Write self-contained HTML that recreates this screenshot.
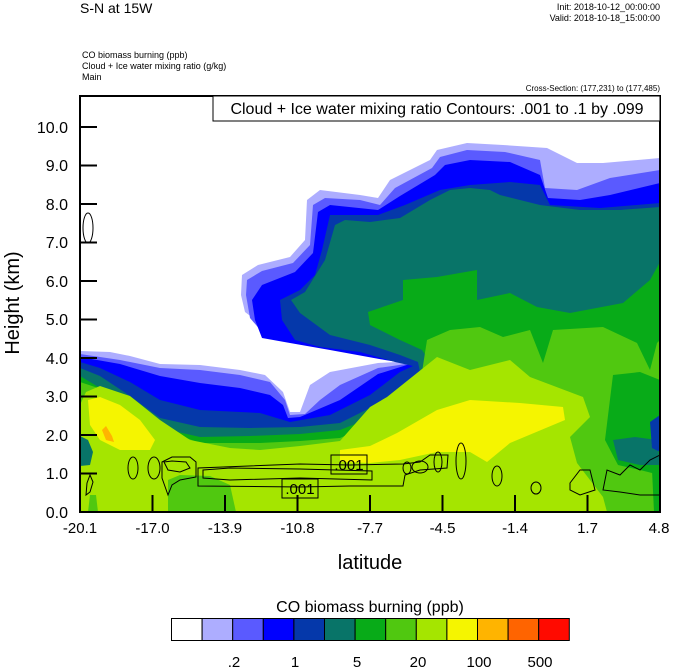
<!DOCTYPE html>
<html><head><meta charset="utf-8"><style>
html,body{margin:0;padding:0;background:#fff;}
body{width:674px;height:668px;overflow:hidden;}
svg{display:block;font-family:"Liberation Sans",sans-serif;}
</style></head><body>
<svg width="674" height="668" viewBox="0 0 674 668" xmlns="http://www.w3.org/2000/svg">
<defs><clipPath id="c"><rect x="80" y="96" width="580" height="416"/></clipPath></defs>
<rect width="674" height="668" fill="#fff"/>
<g clip-path="url(#c)">
<path fill="#adadff" d="M80,512 L80,351 L110,352 L130,356 L160,364 L200,365 L240,370 L265,375 L283,392 L290,412 L300,412 L310,385 L330,372 L378,363 L415,361 L380,351 L330,341 L290,333 L265,327 L245,312 L241,295 L242,275 L258,265 L290,257 L305,240 L307,200 L320,190 L360,195 L378,198 L390,180 L430,160 L437,150 L467,143 L503,145 L547,148 L577,163 L603,163 L660,158 L660,512 Z"/>
<path fill="#5a5aff" d="M80,512 L80,354 L120,360 L160,368 L200,370 L240,375 L270,382 L285,400 L290,415 L305,414 L320,400 L340,385 L378,368 L413,363 L380,356 L330,346 L290,338 L262,332 L250,318 L246,295 L247,280 L262,271 L293,263 L310,245 L313,205 L325,198 L360,200 L380,205 L395,188 L432,168 L440,157 L467,150 L505,152 L540,160 L545,188 L577,190 L610,178 L660,170 L660,512 Z"/>
<path fill="#0000ff" d="M80,512 L80,357 L120,364 L160,376 L200,383 L240,388 L270,395 L283,405 L288,418 L300,417 L340,400 L378,374 L410,364 L385,360 L330,350 L290,343 L262,338 L255,320 L252,300 L262,285 L295,272 L313,253 L318,212 L330,205 L378,210 L400,196 L435,175 L445,165 L470,160 L510,162 L540,175 L548,198 L580,200 L610,195 L660,183 L660,512 Z"/>
<path fill="#0538aa" d="M80,512 L80,362 L100,368 L130,382 L160,400 L200,410 L260,413 L290,422 L330,415 L370,395 L400,372 L413,366 L395,362 L360,352 L320,347 L295,340 L282,320 L280,300 L300,290 L315,275 L322,250 L330,215 L378,215 L405,205 L440,190 L470,185 L510,182 L540,185 L550,205 L600,208 L660,203 L660,512 Z"/>
<path fill="#087468" d="M80,512 L80,368 L100,376 L130,396 L160,418 L200,427 L250,428 L300,427 L340,423 L370,408 L400,390 L420,372 L418,362 L400,355 L370,345 L330,335 L300,313 L291,300 L305,292 L325,260 L335,225 L345,220 L370,222 L400,218 L430,200 L450,190 L470,188 L490,190 L500,195 L540,205 L580,210 L620,210 L660,207 L660,512 Z"/>
<path fill="#08ab18" d="M80,512 L80,376 L100,388 L130,408 L160,428 L200,437 L250,436 L300,434 L340,430 L370,418 L400,403 L425,380 L432,365 L422,350 L400,340 L370,325 L368,312 L403,300 L403,280 L437,277 L477,270 L477,300 L510,293 L537,307 L570,313 L623,303 L650,280 L660,262 L660,512 Z"/>
<path fill="#50c810" d="M80,512 L80,382 L110,392 L140,412 L170,432 L200,443 L260,443 L300,441 L340,438 L370,425 L400,410 L420,385 L427,340 L450,330 L480,327 L503,337 L530,330 L543,363 L553,330 L603,327 L637,343 L650,370 L657,343 L660,340 L660,512 Z"/>
<path fill="#08ab18" d="M613,375 L640,372 L660,380 L660,475 L640,470 L618,465 L605,440 Z"/>
<path fill="#08ab18" d="M652,470 L660,465 L660,512 L654,512 Z"/>
<path fill="#087468" d="M613,440 L635,437 L657,440 L660,465 L640,465 L618,460 Z"/>
<path fill="#0538aa" d="M650,422 L660,415 L660,452 L652,448 Z"/>
<path fill="#a5e500" d="M80,512 L80,405 L86,392 L100,386 L130,396 L160,420 L190,440 L230,448 L260,450 L300,446 L340,441 L370,407 L387,397 L437,357 L470,370 L510,360 L530,377 L583,397 L590,417 L570,437 L577,463 L603,497 L607,512 Z"/>
<path fill="#50c810" d="M168,480 L180,475 L210,476 L230,485 L236,512 L168,512 Z"/>
<path fill="#50c810" d="M88,512 L90,495 L96,495 L98,512 Z"/>
<path fill="#087468" d="M80,436 L88,440 L93,452 L90,465 L80,466 Z"/>
<path fill="#f5f500" d="M88,400 L100,397 L120,405 L140,420 L155,440 L150,450 L120,450 L100,440 L90,425 Z"/>
<path fill="#ffb400" d="M102,430 L106,426 L112,436 L114,442 L106,440 Z"/>
<path fill="#f5f500" d="M340,450 L370,446 L397,433 L437,410 L470,400 L520,403 L563,407 L565,420 L510,443 L487,462 L470,452 L437,452 L400,460 L370,463 L340,462 Z"/>
<g fill="none" stroke="#000" stroke-width="1">
<ellipse cx="88" cy="228" rx="5" ry="15"/>
<path d="M87,483 L90,475 L93,482 L90,492 L86,495 Z"/>
<ellipse cx="133" cy="468" rx="5" ry="11"/>
<ellipse cx="154" cy="468" rx="6" ry="11"/>
<path d="M162,462 L172,457 L190,457 L196,462 L196,477 L180,480 L172,485 L168,495 L162,478 Z"/>
<path d="M164,462 L172,461 L186,462 L190,468 L180,472 L168,470 Z"/>
<path d="M198,468 L198,486 L300,487 L350,486 L403,486 L405,475 L420,470 L447,468 L448,455 L430,455 L420,462 L403,464 L350,465 L300,464 Z"/>
<path d="M203,470 L230,468 L300,469 L372,471 L372,480 L300,478 L230,480 L203,478 Z"/>
<ellipse cx="407" cy="468" rx="4" ry="6"/>
<ellipse cx="420" cy="467" rx="8" ry="6"/>
<ellipse cx="438" cy="462" rx="4" ry="10"/>
<ellipse cx="461" cy="461" rx="5" ry="18"/>
<ellipse cx="497" cy="476" rx="5" ry="10"/>
<ellipse cx="536" cy="488" rx="5" ry="6"/>
<path d="M570,483 L580,470 L590,470 L595,490 L580,495 L570,490 Z"/>
<path d="M603,490 L607,470 L620,475 L630,465 L640,470 L650,460 L660,455 L660,495 L640,495 L620,492 Z"/>
</g>
<g font-size="15" text-anchor="middle">
<rect x="331" y="455" width="36" height="19" fill="none" stroke="#000"/>
<text x="349" y="470">.001</text>
<rect x="282" y="479" width="36" height="19" fill="none" stroke="#000"/>
<text x="300" y="494">.001</text>
</g>
</g>
<rect x="80" y="96" width="580" height="416" fill="none" stroke="#000" stroke-width="2"/>
<g stroke="#000" stroke-width="2">
<path d="M80,127H97M80,165.5H97M80,204H97M80,242.5H97M80,281H97M80,319.5H97M80,358H97M80,396.5H97M80,435H97M80,473.5H97"/>
<path d="M152.5,512V495M225,512V495M297.5,512V495M370,512V495M442.5,512V495M515,512V495M587.5,512V495"/>
</g>
<g font-size="16" text-anchor="end">
<text x="68" y="133">10.0</text><text x="68" y="171">9.0</text><text x="68" y="210">8.0</text><text x="68" y="248">7.0</text><text x="68" y="287">6.0</text><text x="68" y="325">5.0</text><text x="68" y="364">4.0</text><text x="68" y="402">3.0</text><text x="68" y="441">2.0</text><text x="68" y="479">1.0</text><text x="68" y="518">0.0</text>
</g>
<g font-size="15" text-anchor="middle">
<text x="80" y="533">-20.1</text><text x="152.5" y="533">-17.0</text><text x="225" y="533">-13.9</text><text x="297.5" y="533">-10.8</text><text x="370" y="533">-7.7</text><text x="442.5" y="533">-4.5</text><text x="515" y="533">-1.4</text><text x="587.5" y="533">1.7</text><text x="659" y="533">4.8</text>
</g>
<text x="370" y="569" font-size="20" text-anchor="middle">latitude</text>
<text transform="translate(19,303) rotate(-90)" font-size="20" text-anchor="middle">Height (km)</text>
<text x="80" y="13" font-size="14">S-N at 15W</text>
<text x="660" y="10" font-size="9" text-anchor="end">Init: 2018-10-12_00:00:00</text>
<text x="660" y="21" font-size="9" text-anchor="end">Valid: 2018-10-18_15:00:00</text>
<text x="82" y="58" font-size="9">CO biomass burning   (ppb)</text>
<text x="82" y="69" font-size="9">Cloud + Ice water mixing ratio   (g/kg)</text>
<text x="82" y="80" font-size="9">Main</text>
<text x="660" y="91" font-size="8" text-anchor="end">Cross-Section: (177,231) to (177,485)</text>
<rect x="213" y="96" width="447" height="25" fill="#fff" stroke="#000" stroke-width="1"/>
<text x="437" y="114" font-size="16" text-anchor="middle">Cloud + Ice water mixing ratio Contours: .001 to .1 by .099</text>
<text x="370" y="612" font-size="16" text-anchor="middle">CO biomass burning  (ppb)</text>
<g stroke="#000" stroke-width="1">
<rect x="171.5" y="618.5" width="30.6" height="22" fill="#fff"/>
<rect x="202.1" y="618.5" width="30.6" height="22" fill="#adadff"/>
<rect x="232.7" y="618.5" width="30.6" height="22" fill="#5a5aff"/>
<rect x="263.3" y="618.5" width="30.6" height="22" fill="#0000ff"/>
<rect x="293.9" y="618.5" width="30.6" height="22" fill="#0538aa"/>
<rect x="324.5" y="618.5" width="30.6" height="22" fill="#087468"/>
<rect x="355.1" y="618.5" width="30.6" height="22" fill="#08ab18"/>
<rect x="385.7" y="618.5" width="30.6" height="22" fill="#50c810"/>
<rect x="416.3" y="618.5" width="30.6" height="22" fill="#a5e500"/>
<rect x="446.9" y="618.5" width="30.6" height="22" fill="#f5f500"/>
<rect x="477.5" y="618.5" width="30.6" height="22" fill="#ffb400"/>
<rect x="508.1" y="618.5" width="30.6" height="22" fill="#ff6400"/>
<rect x="538.7" y="618.5" width="30.6" height="22" fill="#ff0a00"/>
</g>
<g font-size="15" text-anchor="middle">
<text x="234" y="667">.2</text><text x="295" y="667">1</text><text x="357" y="667">5</text><text x="418" y="667">20</text><text x="479" y="667">100</text><text x="540" y="667">500</text>
</g>
</svg>
</body></html>
